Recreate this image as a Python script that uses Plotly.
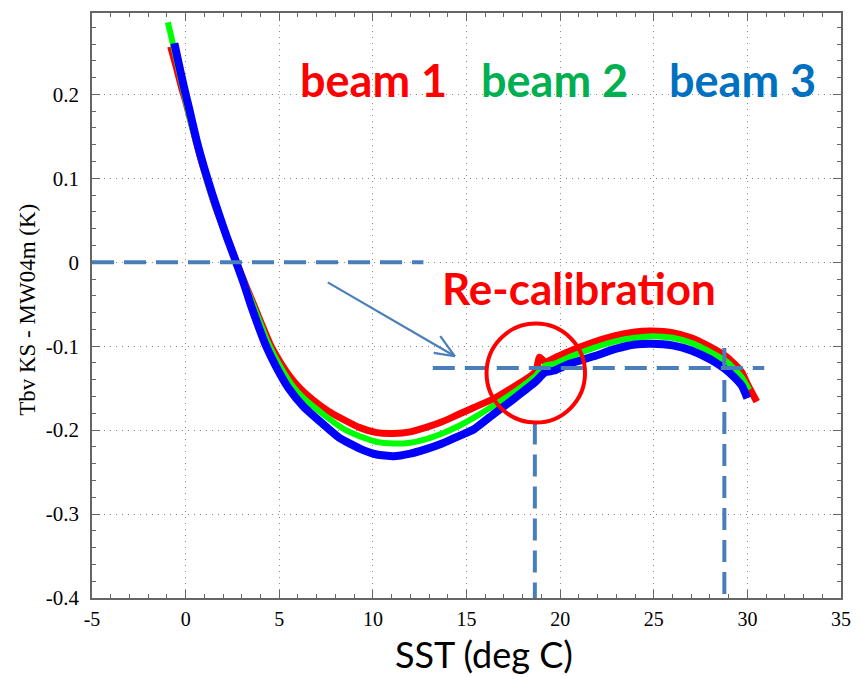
import plotly.graph_objects as go

# ---------------- data ----------------
sst_red = [-0.8, -0.5, -0.2, 0.0, 0.4, 0.8, 1.2, 1.6, 2.0, 2.4, 2.7, 3.2, 3.7, 4.1, 4.5, 5.0, 5.5, 6.1,
           6.8, 7.6, 8.4, 9.3, 10.2, 11.1, 12.0, 12.8, 13.7, 14.5, 15.4, 16.5, 17.4, 18.2, 18.7, 18.9,
           19.2, 19.7, 20.5, 21.8, 23.0, 24.0, 24.9, 26.0, 27.0, 27.6, 28.2, 28.8, 29.3, 29.7, 30.0, 30.5]
tb_red = [0.257, 0.233, 0.207, 0.192, 0.158, 0.124, 0.094, 0.066, 0.042, 0.019, 0.001, -0.027, -0.054,
          -0.076, -0.097, -0.117, -0.134, -0.150, -0.164, -0.177, -0.187, -0.197, -0.203, -0.204, -0.202,
          -0.197, -0.190, -0.182, -0.173, -0.162, -0.150, -0.139, -0.130, -0.113, -0.119, -0.114, -0.106,
          -0.095, -0.087, -0.083, -0.082, -0.084, -0.090, -0.096, -0.103, -0.111, -0.121, -0.131, -0.145,
          -0.166]

sst_green = [-0.95, -0.8, -0.5, -0.2, 0.2, 0.6, 1.0, 1.5, 2.0, 2.4, 2.7, 3.2, 3.7, 4.1, 4.4, 5.0, 5.8,
             6.5, 7.4, 8.4, 8.85, 9.5, 10.2, 11.1, 12.0, 12.8, 13.7, 14.5, 15.4, 16.5, 17.4, 18.2, 18.7,
             19.2, 19.7, 20.5, 21.8, 23.0, 24.0, 24.9, 26.0, 27.0, 27.6, 28.2, 28.8, 29.3, 29.7, 30.1]
tb_green = [0.286, 0.272, 0.242, 0.212, 0.174, 0.140, 0.108, 0.072, 0.041, 0.018, 0.000, -0.028, -0.056,
            -0.079, -0.096, -0.122, -0.150, -0.166, -0.182, -0.198, -0.203, -0.209, -0.214, -0.216,
            -0.215, -0.211, -0.204, -0.196, -0.185, -0.170, -0.157, -0.144, -0.135, -0.123, -0.121,
            -0.113, -0.102, -0.094, -0.090, -0.088, -0.090, -0.096, -0.102, -0.109, -0.117, -0.127,
            -0.137, -0.152]

sst_blue = [-0.6, -0.4, -0.1, 0.2, 0.6, 1.0, 1.4, 1.8, 2.2, 2.7, 3.1, 3.5, 3.9, 4.3, 4.8, 5.5, 6.3, 7.3,
            8.2, 9.3, 10.2, 11.1, 12.0, 12.8, 13.7, 14.5, 15.4, 16.5, 17.4, 18.2, 18.7, 19.2, 19.7, 20.5,
            21.8, 23.0, 24.0, 24.9, 26.0, 27.0, 27.6, 28.2, 28.8, 29.3, 29.7, 30.0]
tb_blue = [0.261, 0.240, 0.210, 0.182, 0.144, 0.112, 0.083, 0.056, 0.030, 0.000, -0.025, -0.052, -0.077,
           -0.100, -0.123, -0.150, -0.172, -0.192, -0.209, -0.222, -0.229, -0.231, -0.228, -0.223,
           -0.216, -0.208, -0.199, -0.180, -0.165, -0.151, -0.142, -0.131, -0.129, -0.121, -0.112,
           -0.103, -0.098, -0.097, -0.099, -0.105, -0.111, -0.118, -0.127, -0.137, -0.147, -0.162]

beam_labels = ["beam 1", "beam 2", "beam 3"]
x_tick_vals = [-5, 0, 5, 10, 15, 20, 25, 30, 35]
x_tick_text = ["-5", "0", "5", "10", "15", "20", "25", "30", "35"]
y_tick_vals = [-0.4, -0.3, -0.2, -0.1, 0.0, 0.1, 0.2]
y_tick_text = ["-0.4", "-0.3", "-0.2", "-0.1", "0", "0.1", "0.2"]

# reference markings (data units)
zero_level = 0.0
zero_level_end = 12.7
recal_level = -0.126
recal_x_start, recal_x_end = 13.2, 30.9
cross_sst = [18.65, 28.77]
cross_top = [-0.191, -0.102]

fig = go.Figure()

for sx, ty, col, w in [(sst_red, tb_red, "#ff0000", 7),
                       (sst_green, tb_green, "#00ff00", 6),
                       (sst_blue, tb_blue, "#0000ff", 8)]:
    fig.add_trace(go.Scatter(x=sx, y=ty, mode="lines",
                             line=dict(color=col, width=w, shape="spline", smoothing=0.5),
                             showlegend=False, hoverinfo="skip"))

dash_col = "#4a7ebb"
dash_line = dict(color=dash_col, width=4, dash="22px,10px")
fig.add_shape(type="line", x0=-5, x1=zero_level_end, y0=zero_level, y1=zero_level, line=dash_line)
fig.add_shape(type="line", x0=recal_x_start, x1=recal_x_end, y0=recal_level, y1=recal_level, line=dash_line)
for cx, ct in zip(cross_sst, cross_top):
    fig.add_shape(type="line", x0=cx, x1=cx, y0=ct, y1=-0.4, line=dash_line)

# red circle
fig.add_shape(type="circle", x0=16.07, x1=21.33, y0=-0.191, y1=-0.073,
              line=dict(color="#ff0000", width=4))

# arrow (line + open head)
arrow_col = "#4a7ebb"
fig.add_shape(type="line", x0=7.59, y0=-0.024, x1=14.38, y1=-0.112, line=dict(color=arrow_col, width=2.2))
fig.add_shape(type="line", x0=13.6, y0=-0.088, x1=14.38, y1=-0.112, line=dict(color=arrow_col, width=2.2))
fig.add_shape(type="line", x0=13.25, y0=-0.108, x1=14.38, y1=-0.112, line=dict(color=arrow_col, width=2.2))

W, H = 862, 677
L, R, T, B = 92, 11, 11, 79
pw, ph = W - L - R, H - T - B


def px(x):
    return (x - L) / pw


def py(y):
    return (H - B - y) / ph


label_font = "Lato"
for txt, cx, col in zip(beam_labels, [377, 561, 751], ["#ff0000", "#00b050", "#0070c0"]):
    fig.add_annotation(text="<b>%s</b>" % txt, x=px(cx), y=py(78), xref="paper", yref="paper",
                       showarrow=False, font=dict(family=label_font, size=45, color=col),
                       xanchor="center", yanchor="middle")

fig.add_annotation(text="<b>Re-calibration</b>", x=px(585), y=py(287), xref="paper", yref="paper",
                   showarrow=False, font=dict(family=label_font, size=44, color="#ff0000"),
                   xanchor="center", yanchor="middle")

fig.add_annotation(text="SST (deg C)", x=px(489), y=py(654), xref="paper", yref="paper",
                   showarrow=False, font=dict(family="Lato", size=36, color="black"),
                   xanchor="center", yanchor="middle", borderpad=0)

fig.add_annotation(text="Tbv KS - MW04m (K)", x=px(27), y=py(309), xref="paper", yref="paper",
                   showarrow=False, textangle=-90,
                   font=dict(family="Liberation Serif", size=23, color="black"),
                   xanchor="center", yanchor="middle")

axis_col = "#666666"
common = dict(showline=True, linecolor=axis_col, linewidth=1.5, mirror="ticks",
              ticks="inside", ticklen=8, tickcolor=axis_col, tickwidth=1.2,
              showgrid=True, gridcolor="#8a8a8a", griddash="1px,5px", gridwidth=1.2,
              zeroline=False, tickmode="array")

xaxis = dict(range=[-5, 35], tickvals=x_tick_vals, ticktext=x_tick_text,
             tickfont=dict(family="Liberation Serif", size=20, color="black"),
             minor=dict(dtick=1, tick0=0, ticks="inside", ticklen=4, tickcolor=axis_col, showgrid=False),
             ticklabelstandoff=2, **common)
yaxis = dict(range=[-0.4, 0.297], tickvals=y_tick_vals, ticktext=y_tick_text,
             tickfont=dict(family="Liberation Serif", size=21, color="black"),
             minor=dict(dtick=0.02, tick0=0, ticks="inside", ticklen=4, tickcolor=axis_col, showgrid=False),
             ticklabelstandoff=7, **common)

fig.update_layout(width=W, height=H, margin=dict(l=L, r=R, t=T, b=B),
                  font=dict(family="Liberation Serif", size=21, color="black"),
                  xaxis=xaxis, yaxis=yaxis,
                  paper_bgcolor="white", plot_bgcolor="white", showlegend=False)

fig.write_html("out.html")
